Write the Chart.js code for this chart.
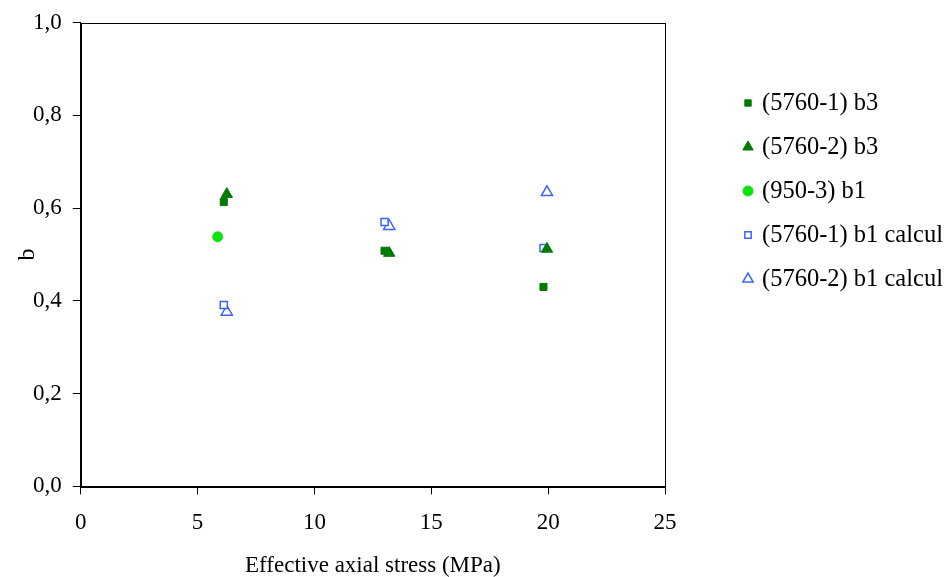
<!DOCTYPE html>
<html>
<head>
<meta charset="utf-8">
<script src="https://cdn.jsdelivr.net/npm/chart.js@4.4.1/dist/chart.umd.min.js"></script>
<style>
  html, body { margin: 0; padding: 0; background: #fff; }
  #wrap { width: 949px; height: 577px; position: relative; }
</style>
</head>
<body>
<div id="wrap"><canvas id="chart"></canvas></div>
<script>
// --- DATA ---
const seriesNames = ['(5760-1) b3', '(5760-2) b3', '(950-3) b1', '(5760-1) b1 calcul', '(5760-2) b1 calcul'];
const x5760_1_b3 = [6.12, 13.0, 19.8];
const y5760_1_b3 = [0.613, 0.508, 0.430];
const x5760_2_b3 = [6.25, 13.2, 19.95];
const y5760_2_b3 = [0.630, 0.503, 0.512];
const x950_3_b1 = [5.86];
const y950_3_b1 = [0.538];
const x5760_1_calc = [6.12, 13.0, 19.8];
const y5760_1_calc = [0.391, 0.570, 0.514];
const x5760_2_calc = [6.25, 13.2, 19.95];
const y5760_2_calc = [0.376, 0.561, 0.634];
const xTicks = [0, 5, 10, 15, 20, 25];
const yTicks = [0, 0.2, 0.4, 0.6, 0.8, 1.0];

const pts = (xs, ys) => xs.map((x, i) => ({ x: x, y: ys[i] }));

const serif = "'Liberation Serif', 'Times New Roman', serif";
const dark = '#007a00';
const lime = '#11e011';
const blue = '#3a66ff';

// --- FRAME + LEGEND (drawn by hand so it sits where the original has it) ---
const framePlugin = {
    id: 'frame',
    afterDraw(chart) {
        const ctx = chart.ctx;
        const a = chart.chartArea;
        ctx.save();
        ctx.strokeStyle = '#000';
        ctx.lineWidth = 1;
        ctx.strokeRect(Math.round(a.left) + 0.5, Math.round(a.top) + 0.5, Math.round(a.right - a.left), Math.round(a.bottom - a.top));
        ctx.restore();

        chart.data.datasets.forEach((ds, i) => {
            const y = 103 + i * 44;
            ctx.save();
            ctx.fillStyle = ds.backgroundColor;
            ctx.strokeStyle = ds.borderColor;
            ctx.lineWidth = ds.borderWidth;
            Chart.helpers.drawPoint(ctx, {
                pointStyle: ds.pointStyle,
                radius: ds.legendRadius,
                borderWidth: ds.borderWidth
            }, 748, y);
            ctx.font = '24.5px ' + serif;
            ctx.textBaseline = 'middle';
            ctx.fillStyle = '#000';
            ctx.fillText(ds.label, 762, y + 1);
            ctx.restore();
        });
    }
};

new Chart(document.getElementById('chart'), {
    type: 'scatter',
    data: {
        datasets: [
            { label: seriesNames[0], data: pts(x5760_1_b3, y5760_1_b3), pointStyle: 'rect', pointRadius: 5, legendRadius: 4.5,
              backgroundColor: dark, borderColor: dark, borderWidth: 1 },
            { label: seriesNames[1], data: pts(x5760_2_b3, y5760_2_b3), pointStyle: 'triangle', pointRadius: 6.5, legendRadius: 6,
              backgroundColor: dark, borderColor: dark, borderWidth: 1 },
            { label: seriesNames[2], data: pts(x950_3_b1, y950_3_b1), pointStyle: 'circle', pointRadius: 5, legendRadius: 5,
              backgroundColor: lime, borderColor: lime, borderWidth: 1 },
            { label: seriesNames[3], data: pts(x5760_1_calc, y5760_1_calc), pointStyle: 'rect', pointRadius: 5, legendRadius: 4.5,
              backgroundColor: '#fff', borderColor: blue, borderWidth: 1.5 },
            { label: seriesNames[4], data: pts(x5760_2_calc, y5760_2_calc), pointStyle: 'triangle', pointRadius: 6.5, legendRadius: 6,
              backgroundColor: '#fff', borderColor: blue, borderWidth: 1.5 }
        ]
    },
    options: {
        responsive: true,
        maintainAspectRatio: false,
        animation: false,
        layout: { padding: { left: 16, right: 284, top: 0, bottom: 0 } },
        plugins: {
            legend: { display: false },
            tooltip: { enabled: false }
        },
        scales: {
            x: {
                type: 'linear',
                min: 0, max: 25,
                afterBuildTicks: axis => { axis.ticks = xTicks.map(v => ({ value: v })); },
                grid: { display: true, drawOnChartArea: false, drawTicks: true, tickLength: 8, color: '#000' },
                border: { color: '#000' },
                ticks: { color: '#000', font: { family: serif, size: 23 }, padding: 15 },
                title: { display: true, text: 'Effective axial stress (MPa)', color: '#000',
                         font: { family: serif, size: 23, lineHeight: 1 }, padding: { top: 2, bottom: 0 } }
            },
            y: {
                type: 'linear',
                min: 0, max: 1,
                afterBuildTicks: axis => { axis.ticks = yTicks.map(v => ({ value: v })); },
                grid: { display: true, drawOnChartArea: false, drawTicks: true, tickLength: 8, color: '#000' },
                border: { color: '#000' },
                ticks: { color: '#000', font: { family: serif, size: 23, lineHeight: 1 }, padding: 11,
                         callback: v => v.toFixed(1).replace('.', ',') },
                title: { display: true, text: 'b', color: '#000',
                         font: { family: serif, size: 24, lineHeight: 1 }, padding: { top: 0, bottom: -18 } }
            }
        }
    },
    plugins: [framePlugin]
});
</script>
</body>
</html>
